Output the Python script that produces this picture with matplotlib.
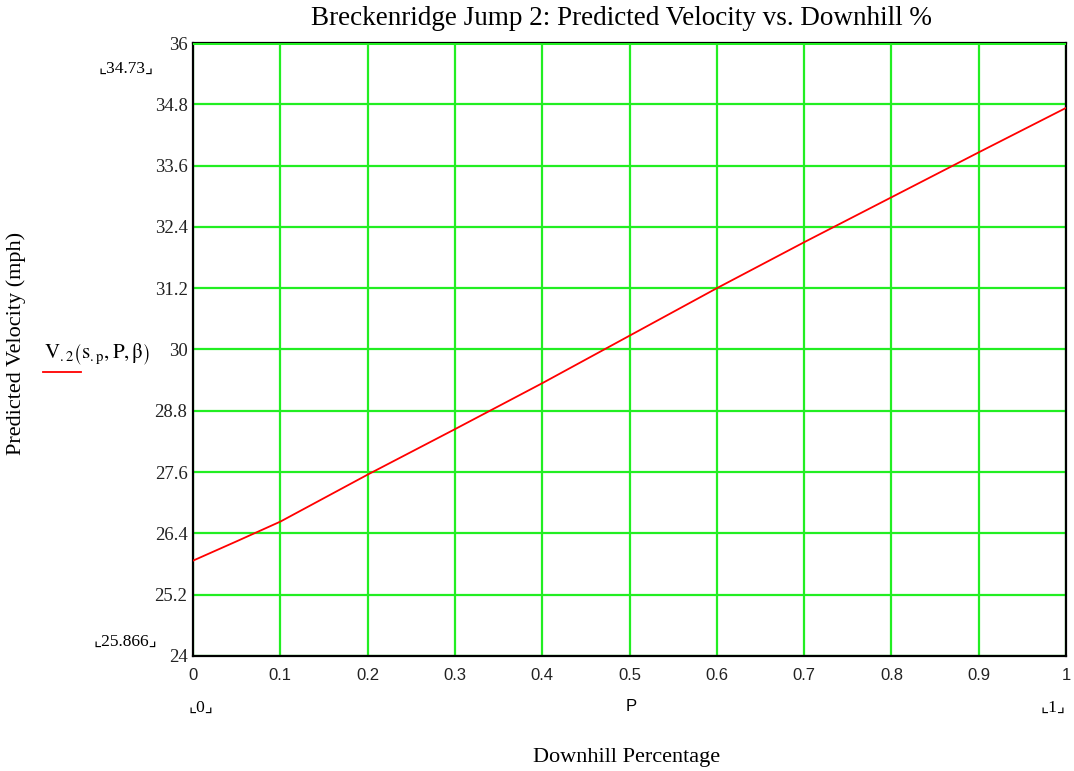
import numpy as np
import matplotlib
matplotlib.use("Agg")
import matplotlib.pyplot as plt

# Werte
P = [0.0, 0.05, 0.1, 0.2, 0.3, 0.4, 0.5, 0.6, 0.7, 0.8, 0.9, 1.0]
V2 = [25.866, 26.245, 26.63, 27.55, 28.44, 29.34, 30.27, 31.2, 32.1, 32.98, 33.86, 34.73]

x_ticks = [0, 0.1, 0.2, 0.3, 0.4, 0.5, 0.6, 0.7, 0.8, 0.9, 1]
x_labels = ["0", "0.1", "0.2", "0.3", "0.4", "0.5", "0.6", "0.7", "0.8", "0.9", "1"]
y_ticks = [24, 25.2, 26.4, 27.6, 28.8, 30, 31.2, 32.4, 33.6, 34.8, 36]
y_labels = ["24", "25.2", "26.4", "27.6", "28.8", "30", "31.2", "32.4", "33.6", "34.8", "36"]

serif = ["Liberation Serif", "DejaVu Serif"]
sans = ["Liberation Sans", "DejaVu Sans"]
plt.rcParams["mathtext.fontset"] = "stix"

fig = plt.figure(figsize=(10.74, 7.71), dpi=100)
ax = fig.add_axes([0.1797, 0.1492, 0.8129, 0.795])

green = "#22ee22"
ax.set_xlim(0, 1)
ax.set_ylim(24, 36)
ax.set_xticks(x_ticks)
ax.set_yticks(y_ticks)
ax.set_xticklabels(x_labels, fontfamily=sans, fontsize=12, color="#222222")
ax.set_yticklabels(y_labels, fontfamily=serif, fontsize=13.5, color="#222222")
ax.tick_params(length=0, pad=4)
ax.tick_params(axis="x", pad=9)
ax.grid(True, color=green, linewidth=1.6)
ax.set_axisbelow(True)
for s in ax.spines.values():
    s.set_linewidth(1.6)
    s.set_color("black")
ax.axhline(36, color=green, linewidth=2.2, zorder=3)

ax.plot(P, V2, color="red", linewidth=1.3, zorder=4)

fig.text(0.579, 0.976, "Breckenridge Jump 2: Predicted Velocity vs. Downhill %",
         ha="center", va="center", fontfamily=serif, fontsize=19.5)
fig.text(0.015, 0.554, "Predicted Velocity (mph)", rotation=90,
         ha="center", va="center", fontfamily=serif, fontsize=16)
fig.text(0.583, 0.018, "Downhill Percentage", ha="center", va="center",
         fontfamily=serif, fontsize=16)

# Mathcad-Platzhalter fuer Min/Max
mark = ["Liberation Serif", "DejaVu Sans"]
fig.text(0.117, 0.911, "⌞34.73⌟", ha="center", va="center", fontfamily=mark, fontsize=12.5)
fig.text(0.117, 0.168, "⌞25.866⌟", ha="center", va="center", fontfamily=mark, fontsize=12.5)
fig.text(0.187, 0.082, "⌞0⌟", ha="center", va="center", fontfamily=mark, fontsize=12.5)
fig.text(0.980, 0.082, "⌞1⌟", ha="center", va="center", fontfamily=mark, fontsize=12.5)
fig.text(0.588, 0.084, "P", ha="center", va="center", fontfamily=sans, fontsize=12)

# Legende
fig.text(0.041, 0.540,
         r"$\mathrm{V_{.2}}\left(\mathrm{s_{.p}},\mathrm{P},\mathrm{\beta}\right)$",
         ha="left", va="center", fontsize=15)
fig.add_artist(plt.Line2D([0.040, 0.075], [0.517, 0.517], color="red",
                          linewidth=1.3, transform=fig.transFigure))

fig.savefig("out.png", dpi=100)
